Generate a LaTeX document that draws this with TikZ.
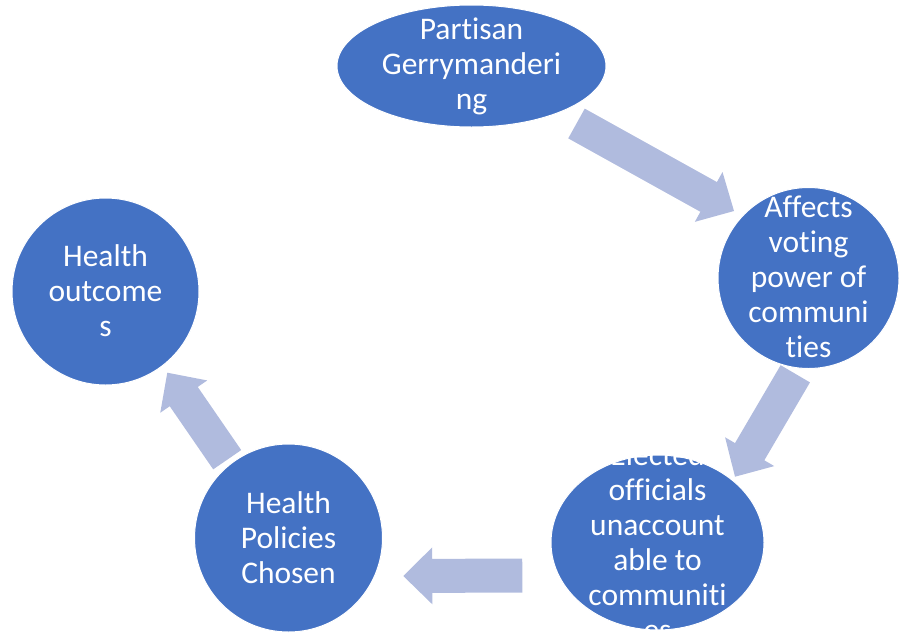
\documentclass[tikz,border=0pt]{standalone}
\usepackage{fontspec}
\setmainfont[Ligatures=NoCommon]{Carlito}
\usetikzlibrary{calc,shapes.geometric}
\definecolor{nodeblue}{RGB}{68,114,196}
\definecolor{arrowblue}{RGB}{176,187,222}
\newcommand\blockarrow[3]{%
  \coordinate (#1h) at ($(#3)!29pt!(#2)$);
  \fill[arrowblue] ($(#2)!17pt!90:(#3)$) -- ($(#1h)!17pt!-90:(#2)$)
    -- ($(#1h)!28.5pt!-90:(#2)$) -- (#3) -- ($(#1h)!28.5pt!90:(#2)$)
    -- ($(#1h)!17pt!90:(#2)$) -- ($(#2)!17pt!-90:(#3)$) -- cycle;}
\begin{document}
\begin{tikzpicture}[x=1pt,y=-1pt,
  label text/.style={font=\fontsize{31.5}{35}\selectfont, text=white, align=center, inner sep=0pt},
  bubble/.style={circle, fill=nodeblue, draw=white, line width=1pt, inner sep=0pt},
  oval/.style={ellipse, fill=nodeblue, draw=white, line width=1pt, inner sep=0pt}]
\useasboundingbox (0,0) rectangle (899,635);
\clip (0,0) rectangle (899,635);
% arrow end points
\coordinate (a1) at (576.5,123.5); \coordinate (a2) at (734,211);
\coordinate (b1) at (795.3,373.8); \coordinate (b2) at (735,476.7);
\coordinate (c1) at (522.3,575.5); \coordinate (c2) at (403.3,576);
\coordinate (d1) at (227.2,459.7); \coordinate (d2) at (167.3,372.7);
\blockarrow{aa}{a1}{a2}
\blockarrow{bb}{b1}{b2}
\blockarrow{cc}{c1}{c2}
\blockarrow{dd}{d1}{d2}
% shapes
\node[oval, minimum width=269pt, minimum height=122pt] (top) at (471.5,66) {};
\node[bubble, minimum size=181pt] (right) at (808.5,278) {};
\node[oval, minimum width=213pt, minimum height=175pt] (br) at (657.5,542.5) {};
\node[bubble, minimum size=188pt] (bl) at (288.5,538) {};
\node[bubble, minimum size=187pt] (left) at (105.5,291.5) {};
% texts
\node[label text] (toptext) at ($(top.center)+(0,0)$) {Partisan\\Gerrymanderi\\ng};
\node[label text] (righttext) at ($(right.center)+(0,-1)$) {Affects\\voting\\power of\\communi\\ties};
\begin{scope}
  \clip (br.west |- br.north) rectangle (br.east |- br.south);
  \node[label text] (brtext) at ($(br.center)+(0,0)$) {Elected\\officials\\unaccount\\able to\\communiti\\es};
\end{scope}
\node[label text] (bltext) at ($(bl.center)+(0,0)$) {Health\\Policies\\Chosen};
\node[label text] (lefttext) at ($(left.center)+(0,-1)$) {Health\\outcome\\s};
\end{tikzpicture}
\end{document}
